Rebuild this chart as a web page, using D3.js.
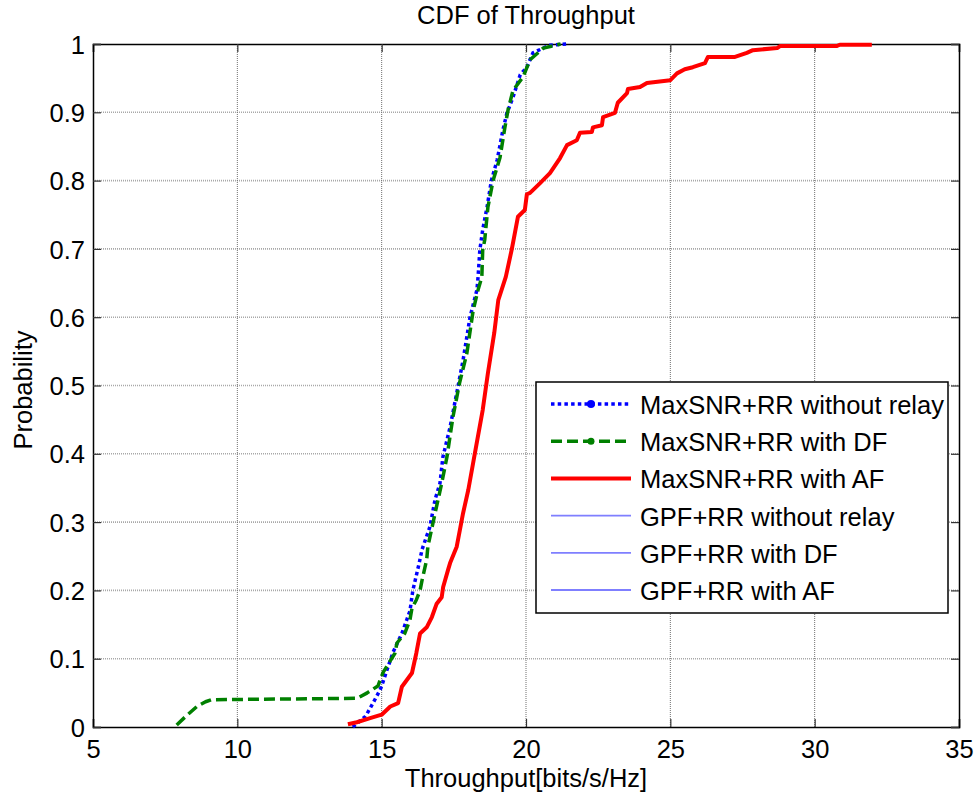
<!DOCTYPE html>
<html>
<head>
<meta charset="utf-8">
<script src="https://cdn.jsdelivr.net/npm/d3@7"></script>
<style>
    body { margin: 0; background: #fff; }
    text { font-family: "Liberation Sans", Arial, sans-serif; fill: #000; }
</style>
</head>
<body>
<svg id="chart" width="978" height="801"></svg>
<script>
"use strict"

// [throughput, probability]
let noRelay = [[14.0,0],[14.42,0.015],[14.5,0.02],[14.7,0.035],[14.94,0.054],[15.0,0.06],[15.18,0.083],[15.4,0.11],
    [15.7,0.137],[15.87,0.157],[15.98,0.17],[16.08,0.2],[16.3,0.24],[16.4,0.26],[16.67,0.293],[16.85,0.333],[17.02,0.357],
    [17.12,0.395],[17.37,0.439],[17.6,0.489],[17.82,0.537],[18.06,0.6],[18.3,0.64],[18.34,0.659],[18.4,0.698],[18.5,0.728],
    [18.65,0.761],[18.8,0.8],[19.0,0.83],[19.2,0.874],[19.34,0.899],[19.55,0.922],[19.8,0.955],[20.03,0.966],[20.24,0.987],
    [20.8,0.998],[21.4,1.0]]

let withDF = [[7.9,0.003],[8.2,0.015],[8.6,0.03],[8.9,0.037],[9.1,0.04],[14.15,0.042],[14.5,0.05],[14.87,0.06],[15.05,0.08],
    [15.46,0.108],[15.53,0.123],[15.8,0.137],[15.98,0.157],[16.05,0.174],[16.2,0.186],[16.33,0.2],[16.4,0.215],[16.56,0.245],
    [16.6,0.264],[16.85,0.313],[17.08,0.357],[17.26,0.395],[17.47,0.454],[17.7,0.504],[17.95,0.547],[18.17,0.61],[18.34,0.64],
    [18.47,0.659],[18.5,0.698],[18.57,0.713],[18.68,0.761],[18.86,0.8],[19.1,0.834],[19.27,0.878],[19.38,0.904],[19.55,0.932],
    [19.9,0.952],[20.14,0.977],[20.6,0.994],[21.2,1.0]]

let withAF = [[13.83,0.004],[14.14,0.007],[14.6,0.013],[15.0,0.018],[15.3,0.03],[15.57,0.035],[15.7,0.059],[16.05,0.079],
    [16.2,0.108],[16.33,0.137],[16.56,0.146],[16.74,0.161],[16.9,0.18],[17.08,0.19],[17.13,0.205],[17.3,0.23],[17.37,0.24],
    [17.6,0.264],[17.82,0.313],[18.0,0.347],[18.23,0.401],[18.5,0.464],[18.68,0.518],[18.9,0.577],[19.04,0.625],[19.3,0.659],
    [19.5,0.698],[19.55,0.709],[19.72,0.747],[19.96,0.757],[20.03,0.78],[20.14,0.782],[20.48,0.796],[20.83,0.811],[21.18,0.833],
    [21.42,0.852],[21.76,0.859],[21.87,0.87],[22.28,0.871],[22.32,0.878],[22.63,0.881],[22.67,0.893],[23.08,0.899],[23.18,0.914],
    [23.5,0.928],[23.53,0.934],[23.95,0.937],[24.19,0.943],[25.0,0.947],[25.23,0.957],[25.5,0.963],[25.78,0.966],[26.2,0.972],
    [26.3,0.981],[27.24,0.981],[27.65,0.987],[27.86,0.991],[28.7,0.994],[28.8,0.997],[30.77,0.997],[30.87,0.999],[31.98,0.999]]

let legendLabels = ["MaxSNR+RR without relay", "MaxSNR+RR with DF", "MaxSNR+RR with AF",
    "GPF+RR without relay", "GPF+RR with DF", "GPF+RR with AF"]
let xTicks = [5, 10, 15, 20, 25, 30, 35]
let yTicks = [0, 0.1, 0.2, 0.3, 0.4, 0.5, 0.6, 0.7, 0.8, 0.9, 1]

let series = [
    {label: legendLabels[0], data: noRelay, color: "#0000ff", width: 3.5, dash: "3.5,3.2", marker: 4},
    {label: legendLabels[1], data: withDF, color: "#008000", width: 3.5, dash: "11,5", marker: 3.5},
    {label: legendLabels[2], data: withAF, color: "#ff0000", width: 4, dash: null, marker: 0},
    {label: legendLabels[3], data: [], color: "#7f7fff", width: 1.8, dash: null, marker: 0},
    {label: legendLabels[4], data: [], color: "#7f7fff", width: 1.8, dash: null, marker: 0},
    {label: legendLabels[5], data: [], color: "#7f7fff", width: 1.8, dash: null, marker: 0}
]

let fontSize = "25.5px"

let margin = {left: 93, top: 44, right: 19, bottom: 74},
    width = 978 - margin.left - margin.right,
    height = 801 - margin.top - margin.bottom

let svg = d3.select("#chart")
let g = svg.append("g").attr("transform", "translate(" + margin.left + "," + margin.top + ")")

let x = d3.scaleLinear().domain([5, 35]).range([0, width])
let y = d3.scaleLinear().domain([0, 1]).range([height, 0])

// grid
g.append("g").selectAll("line")
    .data(yTicks.slice(1, -1))
    .enter().append("line")
    .attr("x1", 0).attr("x2", width)
    .attr("y1", d => y(d)).attr("y2", d => y(d))
    .attr("stroke", "#a8a8a8").attr("stroke-width", 1.6)
    .attr("stroke-dasharray", "1,1")

g.append("g").selectAll("line")
    .data(xTicks.slice(1, -1))
    .enter().append("line")
    .attr("x1", d => x(d)).attr("x2", d => x(d))
    .attr("y1", 0).attr("y2", height)
    .attr("stroke", "#707070").attr("stroke-width", 1)
    .attr("stroke-dasharray", "1,1")

// axes, ticks pointing inward
let xAxis = g.append("g")
    .attr("transform", "translate(0," + height + ")")
    .call(d3.axisBottom(x).tickValues(xTicks).tickSize(-8).tickPadding(13).tickFormat(d3.format("d")))
let xAxisTop = g.append("g")
    .call(d3.axisTop(x).tickValues(xTicks).tickSize(-8).tickFormat(""))
let yAxis = g.append("g")
    .call(d3.axisLeft(y).tickValues(yTicks).tickSize(-8).tickPadding(8).tickFormat(d => d === 0 || d === 1 ? d : d3.format(".1f")(d)))
let yAxisRight = g.append("g")
    .attr("transform", "translate(" + width + ",0)")
    .call(d3.axisRight(y).tickValues(yTicks).tickSize(-8).tickFormat(""))

;[xAxis, xAxisTop, yAxis, yAxisRight].forEach(a => {
    a.select(".domain").attr("stroke", "#000").attr("stroke-width", 1.5)
    a.selectAll(".tick line").attr("stroke", "#333").attr("stroke-width", 1.2)
    a.selectAll(".tick text").style("font-size", fontSize).attr("fill", "#000")
        .style("font-family", "'Liberation Sans', Arial, sans-serif")
})
yAxis.selectAll(".tick text").attr("dy", "0.36em")
xAxis.selectAll(".tick text").attr("dy", "0.71em")

// curves
g.append("clipPath").attr("id", "plot-clip")
    .append("rect").attr("x", -3).attr("y", -3).attr("width", width + 6).attr("height", height + 6)

let line = d3.line().x(d => x(d[0])).y(d => y(d[1]))

g.append("g").attr("clip-path", "url(#plot-clip)")
    .selectAll("path")
    .data(series.filter(s => s.data.length))
    .enter().append("path")
    .attr("d", d => line(d.data))
    .attr("fill", "none")
    .attr("stroke", d => d.color)
    .attr("stroke-width", d => d.width)
    .attr("stroke-dasharray", d => d.dash)
    .attr("stroke-linejoin", "round")

// legend
let legend = svg.append("g").attr("transform", "translate(536,382)")
legend.append("rect")
    .attr("width", 412).attr("height", 231)
    .attr("fill", "#fff").attr("stroke", "#000").attr("stroke-width", 1.5)

let item = legend.selectAll(".item")
    .data(series)
    .enter().append("g")
    .attr("class", "item")
    .attr("transform", (d, i) => "translate(0," + (22 + i * 37.2) + ")")

item.append("line")
    .attr("x1", 15).attr("x2", 95)
    .attr("stroke", d => d.color)
    .attr("stroke-width", d => d.width)
    .attr("stroke-dasharray", d => d.dash)

item.filter(d => d.marker > 0).append("circle")
    .attr("cx", 55).attr("r", d => d.marker)
    .attr("fill", d => d.color)

item.append("text")
    .attr("x", 104).attr("y", 10)
    .style("font-size", fontSize)
    .text(d => d.label)

// titles
svg.append("text")
    .attr("x", margin.left + width / 2).attr("y", 24)
    .attr("text-anchor", "middle")
    .style("font-size", fontSize)
    .text("CDF of Throughput")

svg.append("text")
    .attr("x", margin.left + width / 2).attr("y", 787)
    .attr("text-anchor", "middle")
    .style("font-size", fontSize)
    .text("Throughput[bits/s/Hz]")

svg.append("text")
    .attr("transform", "translate(32,390) rotate(-90)")
    .attr("text-anchor", "middle")
    .style("font-size", fontSize)
    .text("Probability")
</script>
</body>
</html>
